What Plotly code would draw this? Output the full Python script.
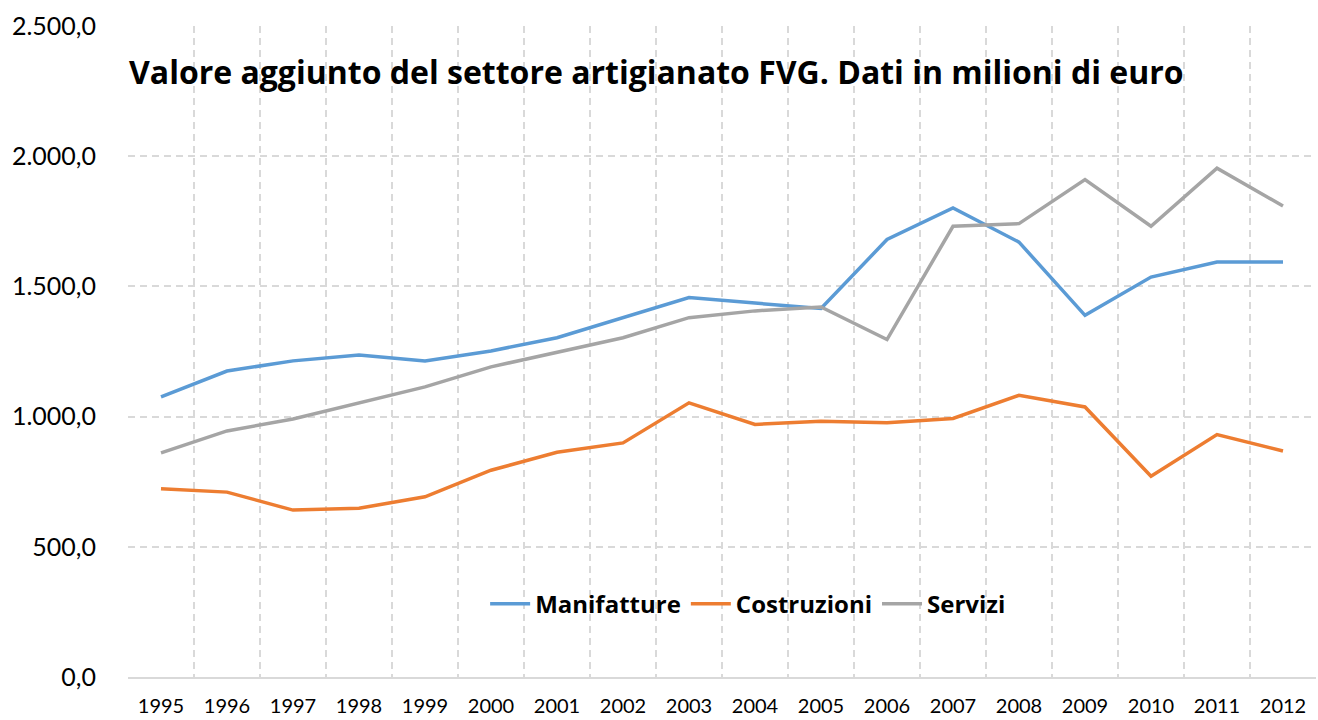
import plotly.graph_objects as go

years = list(range(1995, 2013))
manifatture = [1076, 1175, 1214, 1237, 1214, 1252, 1303, 1380, 1457, 1436, 1415,
               1680, 1801, 1670, 1389, 1536, 1594, 1594]
costruzioni = [723, 710, 641, 648, 692, 794, 863, 899, 1053, 970, 982,
               976, 993, 1082, 1037, 771, 931, 868]
servizi = [861, 945, 991, 1053, 1114, 1191, 1247, 1303, 1380, 1406, 1421,
           1296, 1731, 1741, 1910, 1731, 1954, 1809]
series_names = ["Manifatture", "Costruzioni", "Servizi"]
colors = ["#5B9BD5", "#ED7D31", "#A5A5A5"]
title = "Valore aggiunto del settore artigianato FVG. Dati in milioni di euro"

FONT = "Lato"
BOLD = "Open Sans"
fig = go.Figure()
for name, vals, col in zip(series_names, [manifatture, costruzioni, servizi], colors):
    fig.add_trace(go.Scatter(x=years, y=vals, name=name, mode="lines",
                             line=dict(color=col, width=3.5)))

grid = "#D9D9D9"
fig.update_layout(
    width=1318, height=720,
    paper_bgcolor="white", plot_bgcolor="white",
    margin=dict(l=128, r=2, t=26, b=43),
    separators=",.",
    font=dict(family=FONT, color="black"),
    title=dict(text="<b>" + title + "</b>", x=129 / 1318, xanchor="left",
               y=1 - 73 / 720, yanchor="middle", xref="container", yref="container",
               font=dict(family=BOLD, size=32, color="black")),
    showlegend=True,
    legend=dict(orientation="h", x=0.522, xanchor="center", y=0.112, yanchor="middle",
                font=dict(family=BOLD, size=24, color="black", weight="bold"),
                bgcolor="rgba(0,0,0,0)", itemwidth=40, traceorder="normal"),
    xaxis=dict(range=[1994.5, 2012.5], tickvals=years, ticktext=[str(y) for y in years],
               showgrid=False, zeroline=False, showline=True, linecolor=grid, linewidth=1.5,
               ticks="outside", ticklen=10, tickcolor="rgba(0,0,0,0)",
               tickfont=dict(family=FONT, size=20, color="black"),
               minor=dict(tick0=1994.5, dtick=1, showgrid=True, gridcolor=grid,
                          griddash="7px,5px", gridwidth=1.5, ticks="")),
    yaxis=dict(range=[0, 2500], tickvals=[0, 500, 1000, 1500, 2000, 2500],
               tickformat=",.1f", showgrid=True, gridcolor=grid, griddash="7px,5px",
               gridwidth=1.5, zeroline=False, showline=False,
               ticks="outside", ticklen=26, tickcolor="rgba(0,0,0,0)",
               tickfont=dict(family=FONT, size=25, color="black")),
)
fig.write_html("out.html", config={"displayModeBar": False},
               post_script="document.body.style.margin='0';")
